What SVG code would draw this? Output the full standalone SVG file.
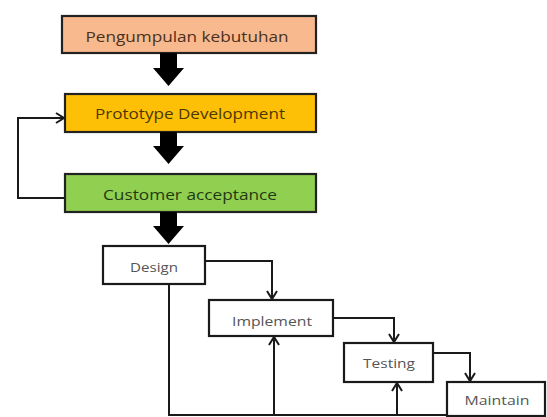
<svg xmlns="http://www.w3.org/2000/svg" width="547" height="417" viewBox="0 0 547 417">
<style>
.box{stroke:#222;stroke-width:2.2}
.wbox{fill:#fff;stroke:#1a1a1a;stroke-width:2.2}
.t{font-family:"Open Sans","Liberation Sans",sans-serif;text-anchor:middle;dominant-baseline:central}
.big{font-size:15px}
.sm{font-size:13px;fill:#555}
.ln{fill:none;stroke:#1a1a1a;stroke-width:2}
.blk{fill:#000}
</style>
<defs>
<marker id="open" markerWidth="12" markerHeight="12" refX="10" refY="6" orient="auto" markerUnits="userSpaceOnUse">
<path d="M2,1 L10,6 L2,11" fill="none" stroke="#1a1a1a" stroke-width="2"/>
</marker>
</defs>
<rect width="547" height="417" fill="#fff"/>
<g id="n1">
<rect class="box" x="62" y="16" width="254" height="37" fill="#f8b98e"/>
<text class="t big" x="187" y="36" fill="#4a3020" textLength="203" lengthAdjust="spacingAndGlyphs">Pengumpulan kebutuhan</text>
</g>
<g id="n2">
<rect class="box" x="65" y="94" width="251" height="38" fill="#fec006"/>
<text class="t big" x="190" y="113" fill="#4a3800" textLength="190" lengthAdjust="spacingAndGlyphs">Prototype Development</text>
</g>
<g id="n3">
<rect class="box" x="65" y="174" width="251" height="38" fill="#90cf50"/>
<text class="t big" x="190" y="194" fill="#1f3a10" textLength="174" lengthAdjust="spacingAndGlyphs">Customer acceptance</text>
</g>
<g id="n4">
<rect class="wbox" x="103" y="246" width="102" height="38"/>
<text class="t sm" x="154" y="267" textLength="48" lengthAdjust="spacingAndGlyphs">Design</text>
</g>
<g id="n5">
<rect class="wbox" x="209" y="300" width="124" height="36"/>
<text class="t sm" x="272" y="321" textLength="80" lengthAdjust="spacingAndGlyphs">Implement</text>
</g>
<g id="n6">
<rect class="wbox" x="344" y="343" width="89" height="39"/>
<text class="t sm" x="389" y="363" textLength="52" lengthAdjust="spacingAndGlyphs">Testing</text>
</g>
<g id="n7">
<rect class="wbox" x="447" y="382" width="98" height="34"/>
<text class="t sm" x="497" y="400" textLength="65" lengthAdjust="spacingAndGlyphs">Maintain</text>
</g>
<g id="connectors">
<polygon class="blk" points="160,53 177,53 177,68 184,68 168.5,86 153,68 160,68"/>
<polygon class="blk" points="160,132 177,132 177,146 184,146 168.5,164 153,146 160,146"/>
<polygon class="blk" points="160,212 177,212 177,226 184,226 168.5,244 153,226 160,226"/>
<path class="ln" d="M65,198 H18 V118 H64" marker-end="url(#open)"/>
<path class="ln" d="M205,261 H272 V299" marker-end="url(#open)"/>
<path class="ln" d="M333,318 H394 V342" marker-end="url(#open)"/>
<path class="ln" d="M433,353 H470 V381" marker-end="url(#open)"/>
<path class="ln" d="M169,284 V415 H447"/>
<path class="ln" d="M274,415 V337" marker-end="url(#open)"/>
<path class="ln" d="M397,415 V383" marker-end="url(#open)"/>
</g>
</svg>
